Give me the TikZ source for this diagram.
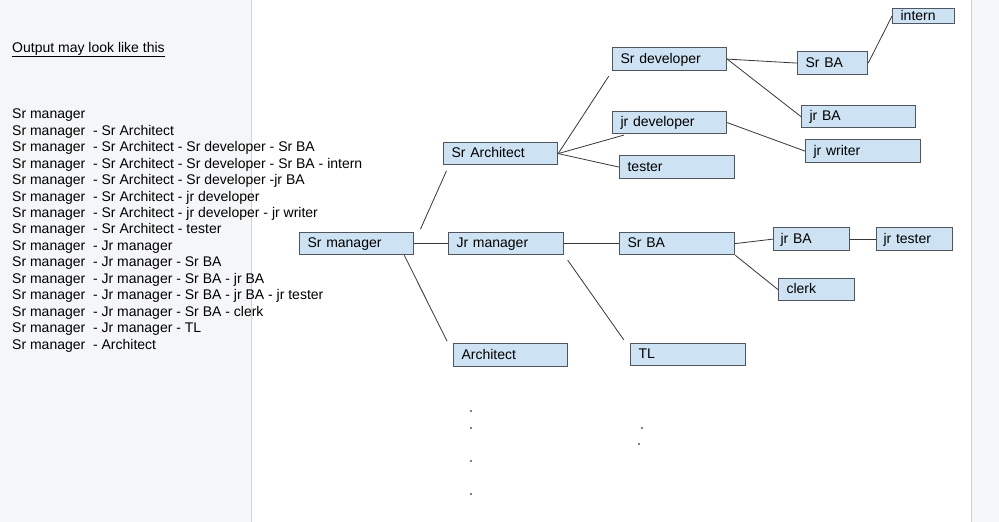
\documentclass[tikz,border=0pt]{standalone}
\usepackage{fontspec}
\setmainfont{Liberation Sans}
\usepackage{tikz}
\usepackage{xcolor}
\definecolor{panelgray}{RGB}{245,246,248}
\definecolor{edgegray}{RGB}{208,210,214}
\definecolor{rolefill}{RGB}{205,226,243}
\definecolor{roleline}{RGB}{80,86,94}
\definecolor{linkgray}{RGB}{55,55,55}
\tikzset{
  role/.style={draw=roleline, line width=1.2pt, fill=rolefill, anchor=north west, align=left,
    inner xsep=8pt, inner ysep=0pt, minimum height=22pt, text height=10.5pt, text depth=2.5pt,
    font=\fontsize{14}{16}\selectfont},
  link/.style={linkgray, line width=0.8pt},
  dot/.style={fill=black, circle, inner sep=0pt, minimum size=1.6pt}
}

\begin{document}
\begin{tikzpicture}[x=1pt, y=-1pt]
        \useasboundingbox (0,0) rectangle (999,522);
        % panels
        \fill[panelgray] (0,0) rectangle (251,522);
        \fill[white] (251,0) rectangle (971,522);
        \fill[panelgray] (971,0) rectangle (999,522);
        \draw[edgegray, line width=1pt] (251.5,0) -- (251.5,522);
        \draw[edgegray, line width=1pt] (971.5,0) -- (971.5,522);
        % left text
        \node[anchor=base west, inner sep=0pt, font=\fontsize{14}{16}\selectfont] (title) at (12,52) {\underline{Output may look like this}};
        \node[anchor=base west, inner sep=0pt, align=left, font=\fontsize{14}{16.43}\selectfont] (paths) at (12,349) {Sr manager\\
Sr manager~~- Sr Architect\\
Sr manager~~- Sr Architect - Sr developer - Sr BA\\
Sr manager~~- Sr Architect - Sr developer - Sr BA - intern\\
Sr manager~~- Sr Architect - Sr developer -jr BA\\
Sr manager~~- Sr Architect - jr developer\\
Sr manager~~- Sr Architect - jr developer - jr writer\\
Sr manager~~- Sr Architect - tester\\
Sr manager~~- Jr manager\\
Sr manager~~- Jr manager - Sr BA\\
Sr manager~~- Jr manager - Sr BA - jr BA\\
Sr manager~~- Jr manager - Sr BA - jr BA - jr tester\\
Sr manager~~- Jr manager - Sr BA - clerk\\
Sr manager~~- Jr manager - TL\\
Sr manager~~- Architect};
        % boxes
        \node[role, text width=98pt] (srmgr) at (299,232) {Sr manager};
        \node[role, text width=99pt] (jrmgr) at (448,232) {Jr manager};
        \node[role, text width=98pt] (srarch) at (443,142) {Sr Architect};
        \node[role, text width=98pt, minimum height=23pt] (arch) at (453,343) {Architect};
        \node[role, text width=98pt, minimum height=23pt] (srdev) at (612,47) {Sr developer};
        \node[role, text width=98pt] (jrdev) at (612,111) {jr developer};
        \node[role, text width=99pt, minimum height=23pt] (tester) at (619,155) {tester};
        \node[role, text width=54pt, minimum height=23pt] (srbaA) at (797,51) {Sr BA};
        \node[role, text width=46pt, minimum height=15pt, text height=9.5pt, text depth=1.5pt] (intern) at (892,8) {intern};
        \node[role, text width=98pt] (jrbaA) at (801,105) {jr BA};
        \node[role, text width=99pt, minimum height=23pt] (jrwriter) at (805,139) {jr writer};
        \node[role, text width=99pt] (srbaB) at (619,232) {Sr BA};
        \node[role, minimum height=23pt, inner xsep=7pt, text width=62pt] (jrbaB) at (773,227) {jr BA};
        \node[role, minimum height=23pt, inner xsep=7pt, text width=62pt] (jrtester) at (876,227) {jr tester};
        \node[role, text width=60pt] (clerk) at (778,278) {clerk};
        \node[role, text width=99pt] (tl) at (630,343) {TL};
        % connectors
        \foreach \a/\b in {srmgr.east/jrmgr.west, jrmgr.east/srbaB.west, srarch.east/tester.west,
          srdev.east/srbaA.west, srdev.east/jrbaA.west, srbaA.east/intern.west, jrdev.east/jrwriter.west,
          srbaB.east/jrbaB.west, jrbaB.east/jrtester.west, srbaB.south east/clerk.west}{\draw[link] (\a) -- (\b);}
        \draw[link, shorten <=3pt, shorten >=6pt] ([xshift=5pt]srmgr.north east) -- ([xshift=6pt]srarch.south west);
        \draw[link, shorten >=2pt] ([xshift=-10pt]srmgr.south east) -- ([xshift=-5pt]arch.north west);
        \draw[link, shorten >=6pt] (srarch.east) -- (srdev.south west);
        \draw[link, shorten >=3pt] (srarch.east) -- ([xshift=15pt]jrdev.south west);
        \draw[link, shorten <=6pt, shorten >=4pt] (jrmgr.south east) -- ([xshift=-4pt]tl.north west);
        % trailing dots
        \foreach \y in {411,428,461,494}{\node[dot] at (471,\y) {};}
        \node[dot] at (642,428) {};
        \node[dot] at (639,444) {};
      \end{tikzpicture}
\end{document}
